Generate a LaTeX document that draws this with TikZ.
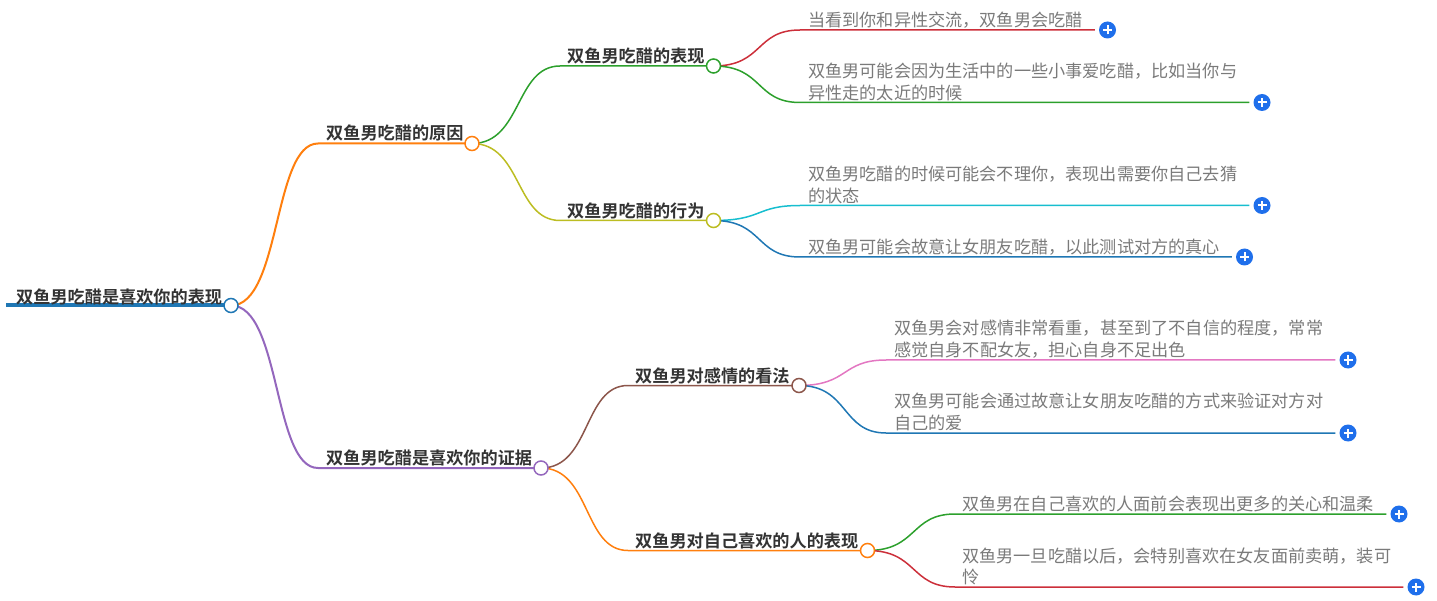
\documentclass[tikz,border=0pt]{standalone}
\usepackage{fontspec}
\setmainfont{Noto Sans CJK SC}
\newfontfamily\boldcjk{Noto Sans CJK SC Bold}
\usetikzlibrary{backgrounds}
\definecolor{tblue}{HTML}{1F77B4}
\definecolor{torange}{HTML}{FF7F0E}
\definecolor{tgreen}{HTML}{2CA02C}
\definecolor{tred}{HTML}{CC2F3A}
\definecolor{tpurple}{HTML}{9467BD}
\definecolor{tbrown}{HTML}{8C564B}
\definecolor{tpink}{HTML}{E377C2}
\definecolor{tolive}{HTML}{BCBD22}
\definecolor{tcyan}{HTML}{17BECF}
\definecolor{plusblue}{HTML}{1F6FEB}
\tikzset{
 x=1pt,y=-1pt,
 dotnode/.style={circle,draw=#1,fill=white,line width=1.5pt,minimum size=14pt,inner sep=0pt},
 plusnode/.style={circle,fill=plusblue,minimum size=17pt,inner sep=0pt,
   path picture={\draw[white,line width=2pt] (path picture bounding box.center) ++(-4.5pt,0) -- ++(9pt,0);
                 \draw[white,line width=2pt] (path picture bounding box.center) ++(0,-4.5pt) -- ++(0,9pt);}},
 headtext/.style={anchor=base west,inner sep=0pt,font=\boldcjk\fontsize{17.16}{23}\selectfont,text=black!80},
 leaftext/.style={anchor=base west,inner sep=0pt,font=\fontsize{17.16}{23}\selectfont,text=black!52},
 branch/.style={line width=2pt},
 twig/.style={line width=1.5pt},
}
\newcommand{\curvecon}[4]{% style, from, joint, to
  \draw[#1] (#2.center) .. controls +(50,0) and +(-45,0) .. (#3) -- (#4);}
\begin{document}
\begin{tikzpicture}
\useasboundingbox (0,0) rectangle (1437,601);
% dots
\node[dotnode=tblue] (d0) at (231,305.5) {};
\node[dotnode=torange] (d1) at (472,143.5) {};
\node[dotnode=tpurple] (d2) at (541,468) {};
\node[dotnode=tgreen] (d11) at (713.5,66) {};
\node[dotnode=tolive] (d12) at (713.5,220.5) {};
\node[dotnode=tbrown] (d21) at (799,385.5) {};
\node[dotnode=torange] (d22) at (867.5,550.5) {};
% plus buttons
\node[plusnode] (p1) at (1107.5,30) {};
\node[plusnode] (p2) at (1262,102.5) {};
\node[plusnode] (p3) at (1262,205.5) {};
\node[plusnode] (p4) at (1244.5,257) {};
\node[plusnode] (p5) at (1348,360) {};
\node[plusnode] (p6) at (1348,433) {};
\node[plusnode] (p7) at (1399,514) {};
\node[plusnode] (p8) at (1416,587) {};
% line ends
\coordinate (r0) at (6,305.5);
\coordinate (j1) at (318,143.5);
\coordinate (j2) at (318,468);
\coordinate (j11) at (560,66);
\coordinate (j12) at (560,220.5);
\coordinate (j21) at (628,385.5);
\coordinate (j22) at (628,550.5);
\coordinate (l1) at (800,30);
\coordinate (l2) at (800,102.5);
\coordinate (l3) at (800,205.5);
\coordinate (l4) at (800,257);
\coordinate (l5) at (886,360);
\coordinate (l6) at (886,433);
\coordinate (l7) at (955,514);
\coordinate (l8) at (955,587);
\coordinate (e1) at ([xshift=-4pt]p1.west);
\coordinate (e2) at ([xshift=-4pt]p2.west);
\coordinate (e3) at ([xshift=-4pt]p3.west);
\coordinate (e4) at ([xshift=-4pt]p4.west);
\coordinate (e5) at ([xshift=-4pt]p5.west);
\coordinate (e6) at ([xshift=-4pt]p6.west);
\coordinate (e7) at ([xshift=-4pt]p7.west);
\coordinate (e8) at ([xshift=-4pt]p8.west);
% connectors
\begin{pgfonlayer}{background}
\draw[tblue,line width=4pt] (r0) -- (d0.center);
\curvecon{torange,branch}{d0}{j1}{d1.center}
\curvecon{tpurple,branch}{d0}{j2}{d2.center}
\curvecon{tgreen,twig}{d1}{j11}{d11.center}
\curvecon{tolive,twig}{d1}{j12}{d12.center}
\curvecon{tbrown,twig}{d2}{j21}{d21.center}
\curvecon{torange,twig}{d2}{j22}{d22.center}
\curvecon{tred,twig}{d11}{l1}{e1}
\curvecon{tgreen,twig}{d11}{l2}{e2}
\curvecon{tcyan,twig}{d12}{l3}{e3}
\curvecon{tblue,twig}{d12}{l4}{e4}
\curvecon{tpink,twig}{d21}{l5}{e5}
\curvecon{tblue,twig}{d21}{l6}{e6}
\curvecon{tgreen,twig}{d22}{l7}{e7}
\curvecon{tred,twig}{d22}{l8}{e8}
\end{pgfonlayer}
% headings
\node[headtext] (t0) at (16,303.5) {双鱼男吃醋是喜欢你的表现};
\node[headtext] (t1) at (326,140) {双鱼男吃醋的原因};
\node[headtext] (t2) at (326,464.5) {双鱼男吃醋是喜欢你的证据};
\node[headtext] (t11) at (567,63) {双鱼男吃醋的表现};
\node[headtext] (t12) at (567,218) {双鱼男吃醋的行为};
\node[headtext] (t21) at (635,382.5) {双鱼男对感情的看法};
\node[headtext] (t22) at (635,547.5) {双鱼男对自己喜欢的人的表现};
% leaves
\node[leaftext] (a1) at (808,27) {当看到你和异性交流，双鱼男会吃醋};
\node[leaftext] (a2a) at (808,78) {双鱼男可能会因为生活中的一些小事爱吃醋，比如当你与};
\node[leaftext] (a2b) at (808,100) {异性走的太近的时候};
\node[leaftext] (a3a) at (808,181) {双鱼男吃醋的时候可能会不理你，表现出需要你自己去猜};
\node[leaftext] (a3b) at (808,203) {的状态};
\node[leaftext] (a4) at (808,253.5) {双鱼男可能会故意让女朋友吃醋，以此测试对方的真心};
\node[leaftext] (a5a) at (894,334.5) {双鱼男会对感情非常看重，甚至到了不自信的程度，常常};
\node[leaftext] (a5b) at (894,356.5) {感觉自身不配女友，担心自身不足出色};
\node[leaftext] (a6a) at (894,407.5) {双鱼男可能会通过故意让女朋友吃醋的方式来验证对方对};
\node[leaftext] (a6b) at (894,429.5) {自己的爱};
\node[leaftext] (a7) at (962,510.5) {双鱼男在自己喜欢的人面前会表现出更多的关心和温柔};
\node[leaftext] (a8a) at (962,562) {双鱼男一旦吃醋以后，会特别喜欢在女友面前卖萌，装可};
\node[leaftext] (a8b) at (962,583) {怜};
\end{tikzpicture}
\end{document}
